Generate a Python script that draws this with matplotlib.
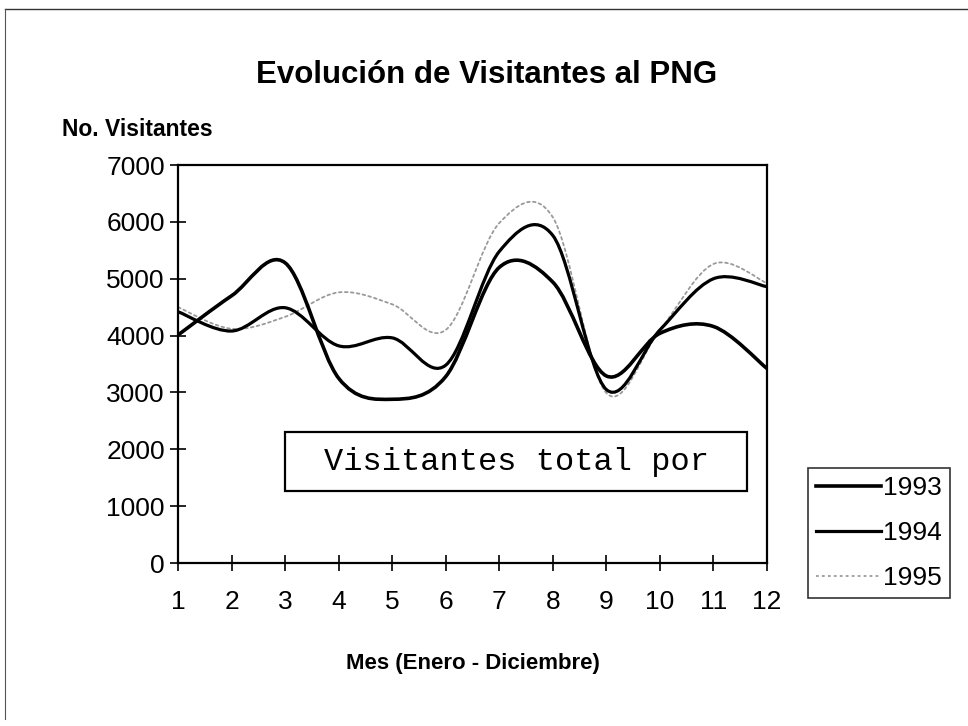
"""Evolución de Visitantes al PNG - monthly visitors 1993-1995."""

import matplotlib

matplotlib.use("Agg")
import matplotlib.pyplot as plt
import numpy as np
from matplotlib.lines import Line2D
from matplotlib.patches import PathPatch, Rectangle
from matplotlib.path import Path

MONTHS = list(range(1, 13))
VISITORS_1993 = [4010, 4700, 5280, 3250, 2880, 3280, 5200, 4940, 3290, 4040, 4160, 3420]
VISITORS_1994 = [4420, 4080, 4490, 3820, 3960, 3480, 5480, 5760, 3050, 4100, 5000, 4860]
VISITORS_1995 = [4500, 4120, 4330, 4760, 4550, 4100, 5980, 6080, 2990, 4100, 5260, 4920]
YEARS = ["1993", "1994", "1995"]
Y_TICKS = [0, 1000, 2000, 3000, 4000, 5000, 6000, 7000]

plt.rcParams["font.family"] = ["Liberation Sans", "DejaVu Sans"]


def smooth_path(xs, ys):
    """Excel-style smoothed line: Catmull-Rom through the points as Bezier curves."""
    pts = np.column_stack([xs, ys]).astype(float)
    padded = np.vstack([pts[0], pts, pts[-1]])
    verts = [pts[0]]
    codes = [Path.MOVETO]
    for i in range(len(pts) - 1):
        p0, p1, p2, p3 = padded[i], padded[i + 1], padded[i + 2], padded[i + 3]
        verts += [p1 + (p2 - p0) / 6.0, p2 - (p3 - p1) / 6.0, p2]
        codes += [Path.CURVE4] * 3
    return Path(verts, codes)


fig = plt.figure(figsize=(9.68, 7.26), dpi=100)
ax = fig.add_axes([0.1839, 0.2245, 0.6085, 0.5482])

styles = [
    dict(color="black", lw=2.6, ls="-"),
    dict(color="black", lw=2.3, ls="-"),
    dict(color="#9a9a9a", lw=1.3, ls=(0, (1.5, 1.8))),
]
series = [VISITORS_1993, VISITORS_1994, VISITORS_1995]

# dotted series first so the solid lines sit on top
for values, style in reversed(list(zip(series, styles))):
    patch = PathPatch(
        smooth_path(MONTHS, values),
        fill=False,
        edgecolor=style["color"],
        lw=style["lw"],
        linestyle=style["ls"],
        capstyle="round",
        joinstyle="round",
    )
    ax.add_patch(patch)

ax.set_xlim(1, 12)
ax.set_ylim(0, 7000)
ax.set_xticks(MONTHS)
ax.set_yticks(Y_TICKS)
ax.tick_params(axis="both", direction="inout", length=11, width=1.2,
               labelsize=19, colors="black")
ax.tick_params(axis="y", pad=4)
ax.tick_params(axis="x", pad=14)
for spine in ax.spines.values():
    spine.set_linewidth(1.6)
    spine.set_color("black")

ax.set_xlabel("Mes (Enero - Diciembre)", fontsize=16, fontweight="bold", labelpad=28)

fig.text(0.503, 0.897, "Evolución de Visitantes al PNG", ha="center", va="center",
         fontsize=22.5, fontweight="bold")
fig.text(62 / 968, 1 - 130 / 726, "No. Visitantes", ha="left", va="center",
         fontsize=16.5, fontweight="bold")

# text box inside the plot
ax.add_patch(Rectangle((0.1817, 0.181), 0.7843, 0.148, transform=ax.transAxes,
                       facecolor="white", edgecolor="black", lw=1.6, zorder=5))
ax.text(0.5745, 0.255, "Visitantes total por", transform=ax.transAxes,
        ha="center", va="center", fontsize=23, family="Liberation Mono", zorder=6)

handles = [Line2D([], [], color=s["color"], lw=s["lw"], ls=s["ls"]) for s in styles]
leg = fig.legend(handles, YEARS, loc="upper left",
                 bbox_to_anchor=(808 / 968, 1 - 468 / 726), bbox_transform=fig.transFigure,
                 frameon=True, fancybox=False, edgecolor="black", fontsize=19,
                 borderpad=0.3, labelspacing=0.8, handlelength=2.45, handletextpad=0.1,
                 borderaxespad=0)
leg.get_frame().set_linewidth(1.2)

# outer chart border (only top and left edges show in the scan)
fig.add_artist(Line2D([5 / 968, 1], [1 - 9 / 726, 1 - 9 / 726], transform=fig.transFigure,
                      color="#333333", lw=1.0))
fig.add_artist(Line2D([5 / 968, 5 / 968], [1 - 9 / 726, 0.01], transform=fig.transFigure,
                      color="#555555", lw=0.8))

fig.savefig("out.png", dpi=100)
